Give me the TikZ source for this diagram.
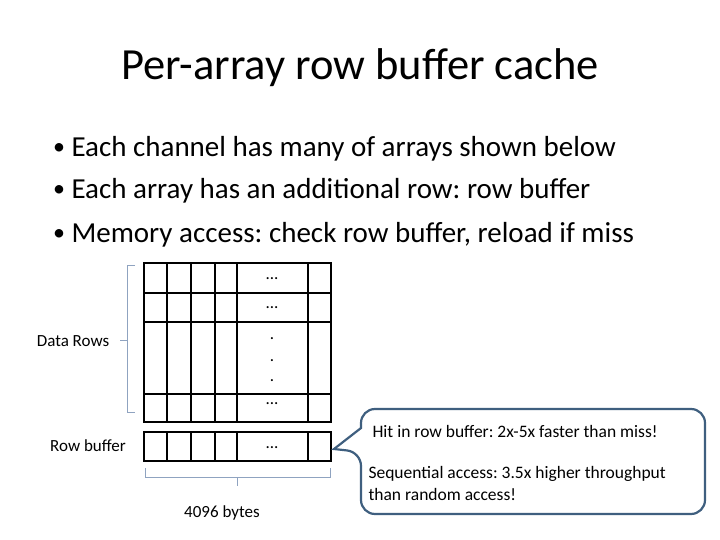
\documentclass[tikz,border=0pt]{standalone}
\usepackage{fontspec}
\setmainfont{Carlito}
\frenchspacing
\definecolor{callc}{HTML}{3F5F7F}
\definecolor{bracec}{HTML}{8FA3C0}
\begin{document}
\frenchspacing
\begin{tikzpicture}[x=1pt,y=-1pt,
  grid/.style={line width=1.6pt},
  brace/.style={draw=bracec, line width=0.9pt},
  lbl/.style={font=\fontsize{17}{20}\selectfont},
  bul/.style={anchor=west,font=\fontsize{29}{35}\selectfont},
  dot/.style={anchor=center,font=\fontsize{24}{28}\selectfont}]
\useasboundingbox (0,0) rectangle (720,540);
\node (title) at (360,68) {\fontsize{44.5}{52}\selectfont Per-array row buffer cache};
\node[dot] (p1) at (59,149) {•};
\node[dot] (p2) at (59,191) {•};
\node[dot] (p3) at (59,235) {•};
\node[bul] (b1) at (68,149) {Each channel has many of arrays shown below};
\node[bul] (b2) at (68,191) {Each array has an additional row: row buffer};
\node[bul] (b3) at (68,235) {Memory access: check row buffer, reload if miss};
% data array
\draw[grid] (144,263) rectangle (331,422);
\foreach \x in {167,191,215,237,308} \draw[grid] (\x,263) -- (\x,422);
\foreach \y in {293,322,394} \draw[grid] (144,\y) -- (331,\y);
\node[lbl] (d1) at (272,279) {...};
\node[lbl] (d2) at (272,308) {...};
\node[lbl] (d3) at (272,339) {.};
\node[lbl] (d4) at (272,361) {.};
\node[lbl] (d5) at (272,381) {.};
\node[lbl] (d6) at (272,404) {...};
% row buffer
\draw[grid] (144,432) rectangle (331,461);
\foreach \x in {167,191,215,237,308} \draw[grid] (\x,432) -- (\x,461);
\node[lbl] (rb) at (272,448) {...};
\coordinate (rbe) at (334,449);
% braces
\draw[brace] (135,265) -- (127,265) -- (127,340) -- (120,340) (127,340) -- (127,412) -- (135,412);
\node[lbl] (dr) at (73,341) {Data Rows};
\node[lbl] (rbl) at (88,446) {Row buffer};
\draw[brace] (145,468) -- (145,477) -- (237,477) -- (237,486) (237,477) -- (330,477) -- (330,468);
\node[lbl] (bytes) at (222,513) {4096 bytes};
% callout
\draw[draw=callc, line width=2.2pt, fill=white, rounded corners=14pt]
  (361,428) -- (361,409) -- (705,409) -- (705,514) -- (361,514) -- (361,452) [sharp corners] -- (rbe) -- cycle;
\node[anchor=west,font=\fontsize{17.5}{21}\selectfont] (c1) at (369,431) {Hit in row buffer: 2x-5x faster than miss!};
\node[anchor=north west,align=left,font=\fontsize{17.5}{21.5}\selectfont] (c2) at (365,463) {Sequential access: 3.5x higher throughput\\than random access!};
\end{tikzpicture}
\end{document}
